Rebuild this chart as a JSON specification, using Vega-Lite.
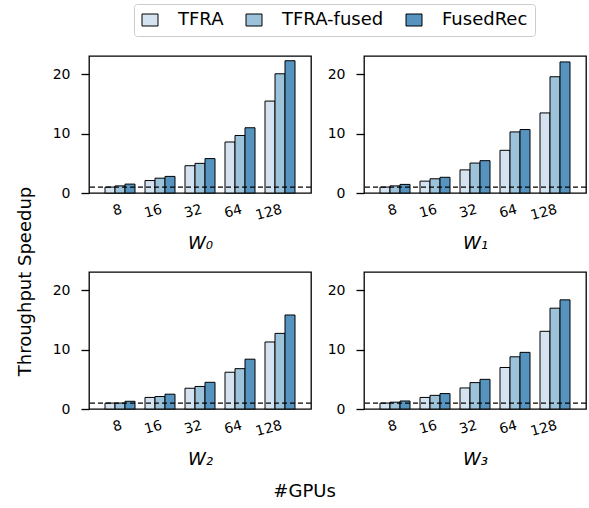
{
  "$schema": "https://vega.github.io/schema/vega-lite/v6.json",
  "padding": {"left": 15, "top": 3, "right": 2, "bottom": 2},
  "background": "white",
  "datasets": {
    "speedup": [
      {"workload": "W0", "gpus": "8", "method": "TFRA", "speedup": 1.0},
      {"workload": "W0", "gpus": "8", "method": "TFRA-fused", "speedup": 1.2},
      {"workload": "W0", "gpus": "8", "method": "FusedRec", "speedup": 1.5},
      {"workload": "W0", "gpus": "16", "method": "TFRA", "speedup": 2.1},
      {"workload": "W0", "gpus": "16", "method": "TFRA-fused", "speedup": 2.5},
      {"workload": "W0", "gpus": "16", "method": "FusedRec", "speedup": 2.8},
      {"workload": "W0", "gpus": "32", "method": "TFRA", "speedup": 4.6},
      {"workload": "W0", "gpus": "32", "method": "TFRA-fused", "speedup": 5.0},
      {"workload": "W0", "gpus": "32", "method": "FusedRec", "speedup": 5.8},
      {"workload": "W0", "gpus": "64", "method": "TFRA", "speedup": 8.6},
      {"workload": "W0", "gpus": "64", "method": "TFRA-fused", "speedup": 9.7},
      {"workload": "W0", "gpus": "64", "method": "FusedRec", "speedup": 11.0},
      {"workload": "W0", "gpus": "128", "method": "TFRA", "speedup": 15.5},
      {"workload": "W0", "gpus": "128", "method": "TFRA-fused", "speedup": 20.1},
      {"workload": "W0", "gpus": "128", "method": "FusedRec", "speedup": 22.3},
      {"workload": "W1", "gpus": "8", "method": "TFRA", "speedup": 1.0},
      {"workload": "W1", "gpus": "8", "method": "TFRA-fused", "speedup": 1.2},
      {"workload": "W1", "gpus": "8", "method": "FusedRec", "speedup": 1.45},
      {"workload": "W1", "gpus": "16", "method": "TFRA", "speedup": 2.0},
      {"workload": "W1", "gpus": "16", "method": "TFRA-fused", "speedup": 2.4},
      {"workload": "W1", "gpus": "16", "method": "FusedRec", "speedup": 2.65},
      {"workload": "W1", "gpus": "32", "method": "TFRA", "speedup": 3.9},
      {"workload": "W1", "gpus": "32", "method": "TFRA-fused", "speedup": 5.05},
      {"workload": "W1", "gpus": "32", "method": "FusedRec", "speedup": 5.45},
      {"workload": "W1", "gpus": "64", "method": "TFRA", "speedup": 7.2},
      {"workload": "W1", "gpus": "64", "method": "TFRA-fused", "speedup": 10.3},
      {"workload": "W1", "gpus": "64", "method": "FusedRec", "speedup": 10.7},
      {"workload": "W1", "gpus": "128", "method": "TFRA", "speedup": 13.5},
      {"workload": "W1", "gpus": "128", "method": "TFRA-fused", "speedup": 19.6},
      {"workload": "W1", "gpus": "128", "method": "FusedRec", "speedup": 22.1},
      {"workload": "W2", "gpus": "8", "method": "TFRA", "speedup": 1.0},
      {"workload": "W2", "gpus": "8", "method": "TFRA-fused", "speedup": 1.0},
      {"workload": "W2", "gpus": "8", "method": "FusedRec", "speedup": 1.3},
      {"workload": "W2", "gpus": "16", "method": "TFRA", "speedup": 1.95},
      {"workload": "W2", "gpus": "16", "method": "TFRA-fused", "speedup": 2.1},
      {"workload": "W2", "gpus": "16", "method": "FusedRec", "speedup": 2.5},
      {"workload": "W2", "gpus": "32", "method": "TFRA", "speedup": 3.5},
      {"workload": "W2", "gpus": "32", "method": "TFRA-fused", "speedup": 3.8},
      {"workload": "W2", "gpus": "32", "method": "FusedRec", "speedup": 4.5},
      {"workload": "W2", "gpus": "64", "method": "TFRA", "speedup": 6.2},
      {"workload": "W2", "gpus": "64", "method": "TFRA-fused", "speedup": 6.8},
      {"workload": "W2", "gpus": "64", "method": "FusedRec", "speedup": 8.4},
      {"workload": "W2", "gpus": "128", "method": "TFRA", "speedup": 11.3},
      {"workload": "W2", "gpus": "128", "method": "TFRA-fused", "speedup": 12.75},
      {"workload": "W2", "gpus": "128", "method": "FusedRec", "speedup": 15.85},
      {"workload": "W3", "gpus": "8", "method": "TFRA", "speedup": 1.0},
      {"workload": "W3", "gpus": "8", "method": "TFRA-fused", "speedup": 1.15},
      {"workload": "W3", "gpus": "8", "method": "FusedRec", "speedup": 1.35},
      {"workload": "W3", "gpus": "16", "method": "TFRA", "speedup": 1.95},
      {"workload": "W3", "gpus": "16", "method": "TFRA-fused", "speedup": 2.3},
      {"workload": "W3", "gpus": "16", "method": "FusedRec", "speedup": 2.6},
      {"workload": "W3", "gpus": "32", "method": "TFRA", "speedup": 3.55},
      {"workload": "W3", "gpus": "32", "method": "TFRA-fused", "speedup": 4.45},
      {"workload": "W3", "gpus": "32", "method": "FusedRec", "speedup": 5.0},
      {"workload": "W3", "gpus": "64", "method": "TFRA", "speedup": 7.0},
      {"workload": "W3", "gpus": "64", "method": "TFRA-fused", "speedup": 8.8},
      {"workload": "W3", "gpus": "64", "method": "FusedRec", "speedup": 9.55},
      {"workload": "W3", "gpus": "128", "method": "TFRA", "speedup": 13.1},
      {"workload": "W3", "gpus": "128", "method": "TFRA-fused", "speedup": 17.0},
      {"workload": "W3", "gpus": "128", "method": "FusedRec", "speedup": 18.4}
    ],
    "baseline": [{"speedup": 1}]
  },
  "config": {
    "font": "DejaVu Sans",
    "view": {"stroke": "black", "strokeWidth": 1.3},
    "axis": {
      "labelFont": "DejaVu Sans", "titleFont": "DejaVu Sans",
      "labelColor": "black", "titleColor": "black", "tickColor": "black",
      "domain": false, "grid": false,
      "labelFontSize": 14, "titleFontSize": 18, "titleFontWeight": "normal"
    },
    "axisX": {"ticks": false, "labelAngle": -15, "labelPadding": 9, "titleFontStyle": "italic", "titleFontSize": 18, "titlePadding": 12},
    "axisY": {"tickSize": 8, "tickWidth": 1.3, "labelPadding": 11},
    "legend": {"labelFont": "DejaVu Sans", "labelColor": "black"}
  },
  "title": {"text": "#GPUs", "orient": "bottom", "anchor": "start", "dx": 258, "fontSize": 18, "fontWeight": "normal", "font": "DejaVu Sans", "color": "black", "offset": 14},
  "columns": 2,
  "bounds": "flush",
  "spacing": {"column": 53, "row": 79},
  "concat": [
    {
      "width": 222, "height": 137,
      "layer": [
        {
          "data": {"name": "speedup"},
          "transform": [{"filter": "datum.workload === 'W0'"}],
          "mark": {"type": "bar", "stroke": "black", "strokeWidth": 1},
          "encoding": {
            "x": {"field": "gpus", "type": "ordinal", "sort": ["8", "16", "32", "64", "128"], "scale": {"paddingInner": 0.25, "paddingOuter": 0.4}, "axis": {"title": "W₀"}},
            "xOffset": {"field": "method", "type": "nominal", "sort": ["TFRA", "TFRA-fused", "FusedRec"], "scale": {"paddingInner": 0, "paddingOuter": 0}},
            "y": {"field": "speedup", "type": "quantitative", "scale": {"domain": [0, 23.1], "nice": false}, "axis": {"values": [0, 10, 20], "title": "Throughput Speedup", "titleX": -64, "titleY": 225, "titleAngle": 270, "titleAlign": "center", "titleBaseline": "middle"}},
            "color": {"field": "method", "type": "nominal", "sort": ["TFRA", "TFRA-fused", "FusedRec"], "scale": {"domain": ["TFRA", "TFRA-fused", "FusedRec"], "range": ["#d5e2f0", "#9cc3da", "#5793bf"]},
              "legend": {"title": null, "orient": "none", "legendX": 45, "legendY": -52, "direction": "horizontal", "symbolType": "M-1,-0.75H1V0.75H-1Z", "symbolSize": 256, "symbolStrokeColor": "black", "symbolStrokeWidth": 1, "labelFontSize": 18, "strokeColor": "#cccccc", "fillColor": "white", "padding": 7, "cornerRadius": 3, "columnPadding": 20, "labelOffset": 19}}
          }
        },
        {
          "data": {"name": "baseline"},
          "mark": {"type": "rule", "color": "black", "strokeDash": [5, 3], "strokeWidth": 1.2},
          "encoding": {"y": {"field": "speedup", "type": "quantitative"}}
        }
      ]
    },
    {
      "width": 222, "height": 137,
      "layer": [
        {
          "data": {"name": "speedup"},
          "transform": [{"filter": "datum.workload === 'W1'"}],
          "mark": {"type": "bar", "stroke": "black", "strokeWidth": 1},
          "encoding": {
            "x": {"field": "gpus", "type": "ordinal", "sort": ["8", "16", "32", "64", "128"], "scale": {"paddingInner": 0.25, "paddingOuter": 0.4}, "axis": {"title": "W₁"}},
            "xOffset": {"field": "method", "type": "nominal", "sort": ["TFRA", "TFRA-fused", "FusedRec"], "scale": {"paddingInner": 0, "paddingOuter": 0}},
            "y": {"field": "speedup", "type": "quantitative", "scale": {"domain": [0, 23.1], "nice": false}, "axis": {"values": [0, 10, 20], "title": null}},
            "color": {"field": "method", "type": "nominal", "sort": ["TFRA", "TFRA-fused", "FusedRec"], "scale": {"domain": ["TFRA", "TFRA-fused", "FusedRec"], "range": ["#d5e2f0", "#9cc3da", "#5793bf"]}}
          }
        },
        {
          "data": {"name": "baseline"},
          "mark": {"type": "rule", "color": "black", "strokeDash": [5, 3], "strokeWidth": 1.2},
          "encoding": {"y": {"field": "speedup", "type": "quantitative"}}
        }
      ]
    },
    {
      "width": 222, "height": 137,
      "layer": [
        {
          "data": {"name": "speedup"},
          "transform": [{"filter": "datum.workload === 'W2'"}],
          "mark": {"type": "bar", "stroke": "black", "strokeWidth": 1},
          "encoding": {
            "x": {"field": "gpus", "type": "ordinal", "sort": ["8", "16", "32", "64", "128"], "scale": {"paddingInner": 0.25, "paddingOuter": 0.4}, "axis": {"title": "W₂"}},
            "xOffset": {"field": "method", "type": "nominal", "sort": ["TFRA", "TFRA-fused", "FusedRec"], "scale": {"paddingInner": 0, "paddingOuter": 0}},
            "y": {"field": "speedup", "type": "quantitative", "scale": {"domain": [0, 23.1], "nice": false}, "axis": {"values": [0, 10, 20], "title": null}},
            "color": {"field": "method", "type": "nominal", "sort": ["TFRA", "TFRA-fused", "FusedRec"], "scale": {"domain": ["TFRA", "TFRA-fused", "FusedRec"], "range": ["#d5e2f0", "#9cc3da", "#5793bf"]}}
          }
        },
        {
          "data": {"name": "baseline"},
          "mark": {"type": "rule", "color": "black", "strokeDash": [5, 3], "strokeWidth": 1.2},
          "encoding": {"y": {"field": "speedup", "type": "quantitative"}}
        }
      ]
    },
    {
      "width": 222, "height": 137,
      "layer": [
        {
          "data": {"name": "speedup"},
          "transform": [{"filter": "datum.workload === 'W3'"}],
          "mark": {"type": "bar", "stroke": "black", "strokeWidth": 1},
          "encoding": {
            "x": {"field": "gpus", "type": "ordinal", "sort": ["8", "16", "32", "64", "128"], "scale": {"paddingInner": 0.25, "paddingOuter": 0.4}, "axis": {"title": "W₃"}},
            "xOffset": {"field": "method", "type": "nominal", "sort": ["TFRA", "TFRA-fused", "FusedRec"], "scale": {"paddingInner": 0, "paddingOuter": 0}},
            "y": {"field": "speedup", "type": "quantitative", "scale": {"domain": [0, 23.1], "nice": false}, "axis": {"values": [0, 10, 20], "title": null}},
            "color": {"field": "method", "type": "nominal", "sort": ["TFRA", "TFRA-fused", "FusedRec"], "scale": {"domain": ["TFRA", "TFRA-fused", "FusedRec"], "range": ["#d5e2f0", "#9cc3da", "#5793bf"]}}
          }
        },
        {
          "data": {"name": "baseline"},
          "mark": {"type": "rule", "color": "black", "strokeDash": [5, 3], "strokeWidth": 1.2},
          "encoding": {"y": {"field": "speedup", "type": "quantitative"}}
        }
      ]
    }
  ]
}
